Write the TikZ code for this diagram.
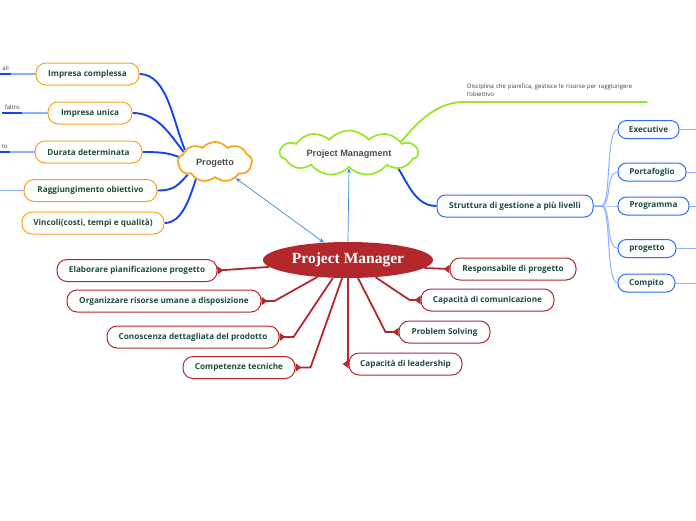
\documentclass[tikz,border=0pt]{standalone}
\usepackage{fontspec}
\setmainfont{Open Sans}
\newfontfamily\cloudfont[BoldFont={Liberation Sans Bold}]{Liberation Sans}
\newfontfamily\pmfont[BoldFont={Liberation Serif Bold}]{Liberation Serif}
\usetikzlibrary{shapes.symbols,shapes.geometric,arrows.meta,backgrounds}
\definecolor{orb}{HTML}{F9A31B}
\definecolor{blb}{HTML}{2F6BFF}
\definecolor{rdb}{HTML}{B3282D}
\definecolor{txt}{HTML}{1E4D3B}
\definecolor{dkblue}{HTML}{1446F0}
\definecolor{ltblue}{HTML}{8FAEFF}
\definecolor{grn}{HTML}{96E62B}
\definecolor{arrblue}{HTML}{3B8BE5}
\definecolor{cloudtxt}{HTML}{4D4D4D}
\begin{document}
\begin{tikzpicture}[x=1pt,y=-1pt,
  box/.style={draw, rounded corners=10pt, line width=1pt, fill=white, minimum height=22pt,
    inner xsep=4pt, inner ysep=0pt, font=\fontsize{8.2}{9}\selectfont\bfseries, text=txt},
  obox/.style={box, draw=orb},
  bbox/.style={box, draw=blb, minimum height=18pt, rounded corners=8.5pt},
  rbox/.style={box, draw=rdb},
  cloudnode/.style={cloud, cloud ignores aspect, cloud puff arc=100, fill=white, line width=1.7pt, inner sep=0pt,
    text depth=0pt, font=\cloudfont\fontsize{9.2}{10}\selectfont\bfseries, text=cloudtxt},
  smalltxt/.style={font=\fontsize{6}{8}\selectfont, text=black!75},
  thick branch/.style={draw=dkblue, line width=1.9pt},
  thin branch/.style={draw=ltblue, line width=1pt},
  redline/.style={draw=rdb, line width=1.8pt, -{Triangle[reversed,length=6pt,width=8pt]}},
  thinarrow/.style={draw=arrblue, line width=0.7pt}
]
\useasboundingbox (0,0) rectangle (696,520);

% left topics
\node[obox, minimum width=103] (ic) at (87.5,74) {Impresa complessa};
\node[obox, minimum width=84] (iu) at (90,113) {Impresa unica};
\node[obox, minimum width=107] (dd) at (88.5,152) {Durata determinata};
\node[obox, minimum width=133] (ro) at (90.5,190.5) {Raggiungimento obiettivo};
\node[obox, minimum width=142] (vc) at (93,223) {Vincoli(costi, tempi e qualità)};

% partial texts at left edge
\node[smalltxt, anchor=south east, inner xsep=2pt, inner ysep=3pt] (t1) at (11,74) {ali};
\node[smalltxt, anchor=south east, inner xsep=2pt, inner ysep=3pt] (t2) at (22,113) {l'altro};
\node[smalltxt, anchor=south east, inner xsep=2pt, inner ysep=3pt] (t3) at (10,152) {to};
\coordinate (t4) at (0,190.5);

% clouds
\node[cloudnode, cloud puffs=9, draw=orb, minimum width=74, minimum height=40] (prog) at (215,162) {Progetto};
\node[cloudnode, cloud puffs=11, draw=grn, minimum width=138, minimum height=45] (pmg) at (349,153) {Project Managment};

% description
\node[smalltxt, anchor=south west, text width=177pt, inner xsep=3pt, inner ysep=5pt, align=left] (disc) at (464,102)
  {Disciplina che pianifica, gestisce le risorse per raggiungere\\l'obiettivo};

% right structure
\node[bbox, minimum height=22, minimum width=156] (st) at (515,206) {Struttura di gestione a più livelli};
\node[bbox, minimum width=61] (ex) at (648.5,129.5) {Executive};
\node[bbox, minimum width=68] (pf) at (652,172) {Portafoglio};
\node[bbox, minimum width=71] (pg) at (653.5,206) {Programma};
\node[bbox, minimum width=58] (pr) at (647,248.5) {progetto};
\node[bbox, minimum width=57] (cp) at (646.5,283) {Compito};
\coordinate (ex2) at (696,129.5);
\coordinate (pf2) at (696,172);
\coordinate (pg2) at (696,206);
\coordinate (pr2) at (696,248.5);
\coordinate (cp2) at (696,283);

% central ellipse
\node[ellipse, fill=rdb, minimum width=170, minimum height=36, inner sep=0pt, text=white,
  font=\pmfont\fontsize{15.5}{16}\selectfont\bfseries] (pm) at (348,260) {Project Manager};

% red topics
\node[rbox, minimum width=160] (el) at (137,270.5) {Elaborare pianificazione progetto};
\node[rbox, minimum width=194] (or) at (164,301) {Organizzare risorse umane a disposizione};
\node[rbox, minimum width=172] (co) at (193,337) {Conoscenza dettagliata del prodotto};
\node[rbox, minimum width=112] (ct) at (239,367.5) {Competenze tecniche};
\node[rbox, minimum width=126] (rp) at (513,269) {Responsabile di progetto};
\node[rbox, minimum width=133] (cc) at (487.5,300) {Capacità di comunicazione};
\node[rbox, minimum width=91] (ps) at (444.5,332) {Problem Solving};
\node[rbox, minimum width=113] (cl) at (405.5,364) {Capacità di leadership};

\begin{pgfonlayer}{background}
  % Progetto branches
  \draw[thick branch] (ic.east) .. controls +(28,0) and +(-12,-28) .. (prog.158);
  \draw[thick branch] (iu.east) .. controls +(25,0) and +(-14,-18) .. (prog.162);
  \draw[thick branch] (dd.east) .. controls +(18,0) and +(-10,-4) .. (prog.172);
  \draw[thick branch] (ro.east) .. controls +(18,0) and +(-10,10) .. (prog.205);
  \draw[thick branch] (vc.east) .. controls +(18,0) and +(-6,18) .. (prog.222);
  % left edge lines
  \draw[draw=dkblue, line width=1.2pt] (t1.south west) -- (t1.south east);
  \draw[draw=dkblue, line width=1.2pt] (t2.south west) -- (t2.south east);
  \draw[draw=dkblue, line width=1.2pt] (t3.south west) -- (t3.south east);
  \draw[thin branch, line width=1.2pt] (t1.south east) -- (ic.west);
  \draw[thin branch, line width=1.2pt] (t2.south east) -- (iu.west);
  \draw[thin branch, line width=1.2pt] (t3.south east) -- (dd.west);
  \draw[thin branch, line width=1.2pt] (t4) -- (ro.west);
  % green
  \draw[draw=grn, line width=1.8pt] ([xshift=40pt]pmg.center) .. controls +(14,-8) and +(-40,0) .. (disc.south west) -- (disc.south east);
  % struttura
  \draw[thick branch] ([xshift=36pt]pmg.center) .. controls +(20,14) and +(-28,0) .. (st.west);
  \foreach \t in {ex,pf,pg,pr,cp}
    \draw[thin branch] (st.east) -- ++(8,0) .. controls +(10,0) and +(-12,0) .. (\t.west);
  \draw[thin branch] (ex.east) -- (ex2);
  \draw[thin branch] (pf.east) -- (pf2);
  \draw[thin branch] (pg.east) -- (pg2);
  \draw[thin branch] (pr.east) -- (pr2);
  \draw[thin branch] (cp.east) -- (cp2);
  % red connectors
  \draw[redline] (pm.185) -- (el.east);
  \draw[redline] (pm.209) -- ([xshift=13pt]or.east) -- (or.east);
  \draw[redline] (pm.230) -- ([xshift=14pt]co.east) -- (co.east);
  \draw[redline] (pm.252) -- ([xshift=15pt]ct.east) -- (ct.east);
  \draw[redline] (pm.south) |- (cl.west);
  \draw[redline] (pm.-61) -- ([xshift=-13pt]ps.west) -- (ps.west);
  \draw[redline] (pm.-32) -- ([xshift=-11pt]cc.west) -- (cc.west);
  \draw[redline] (pm.-6) -- (rp.west);
  % thin blue arrows
  \draw[thinarrow, {Stealth[length=5pt,width=4pt]}-{Stealth[length=5pt,width=4pt]}] (prog.-38) -- (pm.144);
  \draw[thinarrow, -{Stealth[length=5pt,width=4pt]}] (pm.north) -- (pmg.south);
\end{pgfonlayer}
\end{tikzpicture}
\end{document}
